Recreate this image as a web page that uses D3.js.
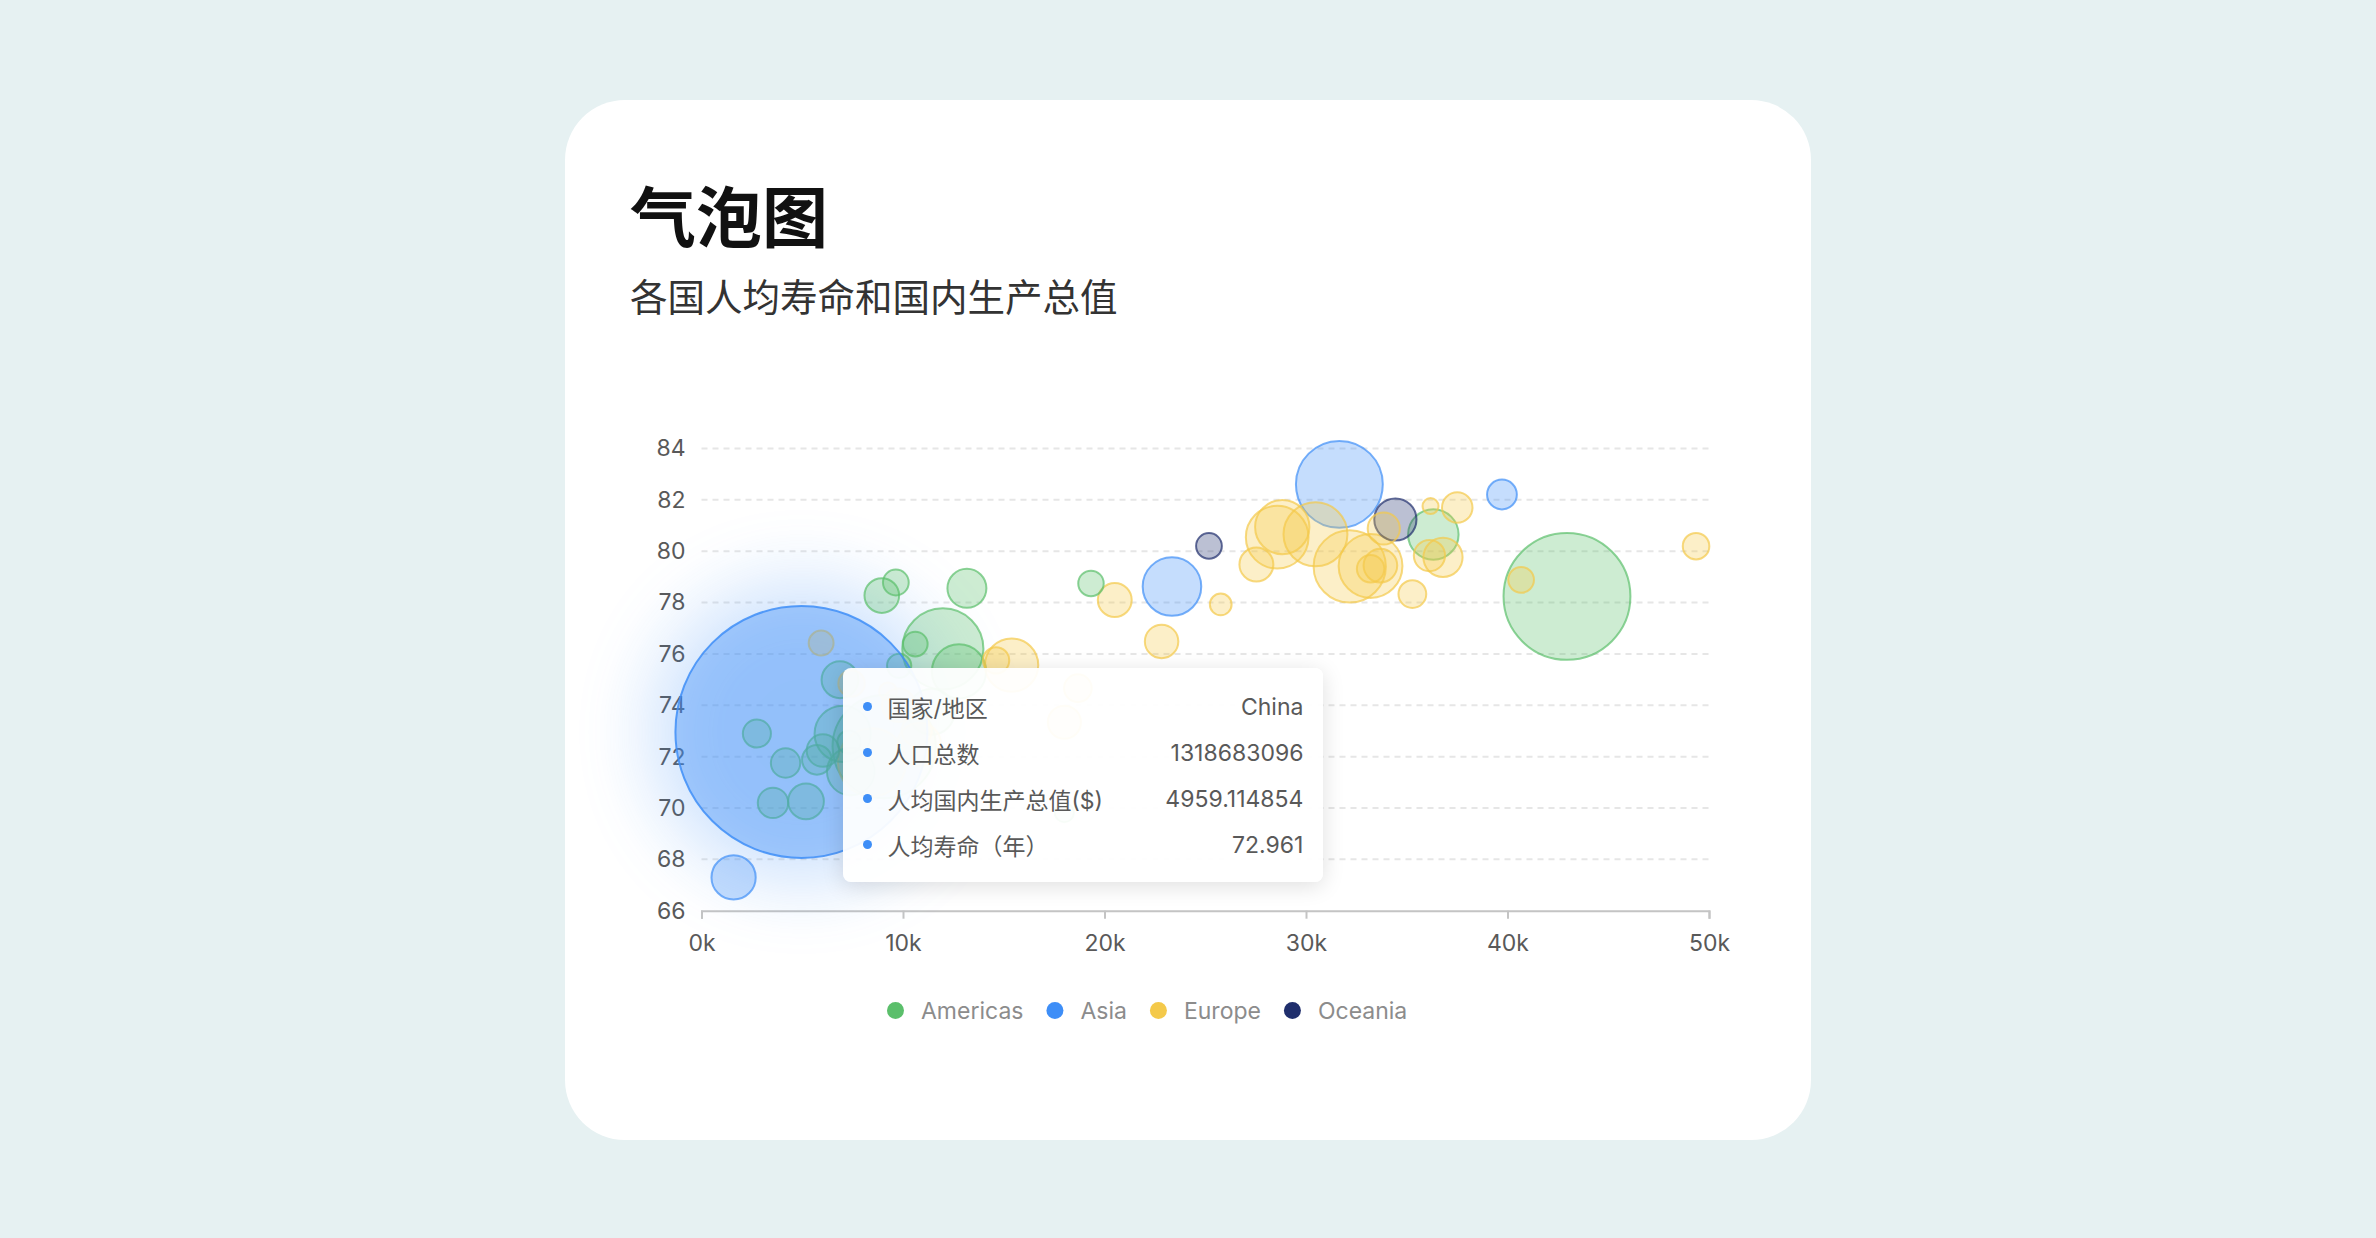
<!DOCTYPE html>
<html>
<head>
<meta charset="utf-8">
<script src="https://cdn.jsdelivr.net/npm/d3@7"></script>
<style>
body { margin: 0; background: #e6f1f2; overflow: hidden; }
#chart { position: relative; width: 2376px; height: 1238px; }
.tip {
	position: absolute;
	box-sizing: border-box;
	width: 480px;
	padding: 16px 20px 14px 20px;
	background: rgba(255,255,255,0.94);
	border-radius: 8px;
	box-shadow: 0 4px 22px rgba(0,0,0,0.13);
	font-family: Inter, "Noto Sans CJK SC", sans-serif;
	font-size: 23px;
	color: #595959;
}
.tip .row { display: flex; align-items: center; height: 46px; }
.tip .dot { width: 9px; height: 9px; border-radius: 50%; margin-right: 15px; flex: none; }
.tip .name { flex: 1; }
.tip .val { text-align: right; }
</style>
</head>
<body>
<div id="chart"></div>
<script>
// gapminder 2007 subset
var countries = ["Argentina","Brazil","Canada","Chile","Colombia","Costa Rica","Cuba","Dominican Republic","Ecuador","El Salvador","Guatemala","Honduras","Jamaica","Mexico","Nicaragua","Panama","Paraguay","Peru","Puerto Rico","Trinidad and Tobago","United States","Uruguay","Venezuela",
	"China","Hong Kong, China","Japan","Korea, Dem. Rep.","Korea, Rep.",
	"Albania","Austria","Belgium","Bosnia and Herzegovina","Bulgaria","Croatia","Czech Republic","Denmark","Finland","France","Germany","Greece","Hungary","Iceland","Ireland","Italy","Montenegro","Netherlands","Norway","Poland","Portugal","Romania","Serbia","Slovak Republic","Slovenia","Spain","Sweden","Switzerland","Turkey","United Kingdom",
	"Australia","New Zealand"];

var continents = ["Americas","Americas","Americas","Americas","Americas","Americas","Americas","Americas","Americas","Americas","Americas","Americas","Americas","Americas","Americas","Americas","Americas","Americas","Americas","Americas","Americas","Americas","Americas",
	"Asia","Asia","Asia","Asia","Asia",
	"Europe","Europe","Europe","Europe","Europe","Europe","Europe","Europe","Europe","Europe","Europe","Europe","Europe","Europe","Europe","Europe","Europe","Europe","Europe","Europe","Europe","Europe","Europe","Europe","Europe","Europe","Europe","Europe","Europe","Europe",
	"Oceania","Oceania"];

var gdpPercap = [12779.37964, 9065.800825, 36319.23501, 13171.63885, 7006.580419, 9645.06142, 8948.102923, 6025.374752, 6873.262326, 5728.353514, 5186.050003, 3548.330846, 7320.880262, 11977.57496, 2749.320965, 9809.185636, 4172.838464, 7408.905561, 19328.70901, 18008.50924, 42951.65309, 10611.46299, 11415.80569,
	4959.114854, 39724.97867, 31656.06806, 1593.06548, 23348.13973,
	5937.029526, 36126.4927, 33692.60508, 7446.298803, 10680.79282, 14619.22272, 22833.30851, 35278.41874, 33207.0844, 30470.0167, 32170.37442, 27538.41188, 18008.94444, 36180.78919, 40675.99635, 28569.7197, 9253.896111, 36797.93332, 49357.19017, 15389.92468, 20509.64777, 10808.47561, 9786.534714, 18678.31435, 25768.25759, 28821.0637, 33859.74835, 37506.41907, 8458.276384, 33203.26128,
	34435.36744, 25185.00911];

var lifeExp = [75.32, 72.39, 80.653, 78.553, 72.889, 78.782, 78.273, 72.235, 74.994, 71.878, 70.259, 70.198, 72.567, 76.195, 72.899, 75.537, 71.752, 71.421, 78.746, 69.819, 78.242, 76.384, 73.747,
	72.961, 82.208, 82.603, 67.297, 78.623,
	76.423, 79.829, 79.441, 74.852, 73.005, 75.748, 76.486, 78.332, 79.313, 80.657, 79.406, 79.483, 73.338, 81.757, 78.885, 80.546, 74.543, 79.762, 80.196, 75.563, 78.098, 72.476, 74.002, 74.663, 77.926, 80.941, 80.884, 81.701, 71.777, 79.425,
	81.235, 80.204];

var population = [40301927, 190010647, 33390141, 16284741, 44227550, 4133884, 11416987, 9319622, 13755680, 6939688, 12572928, 7483763, 2780132, 108700891, 5675356, 3242173, 6667147, 28674757, 3942491, 1056608, 301139947, 3447496, 26084662,
	1318683096, 6980412, 127467972, 23301725, 49044790,
	3600523, 8199783, 10392226, 4552198, 7322858, 4493312, 10228744, 5468120, 5238460, 61083916, 82400996, 10706290, 9956108, 301931, 4109086, 58147733, 684736, 16570613, 4627926, 38518241, 10642836, 22276056, 10150265, 5447502, 2009245, 40448191, 9031088, 7554661, 71158647, 60776238,
	20434176, 4115771];

var legendNames = ["Americas", "Asia", "Europe", "Oceania"];
var legendColors = ["#5bbf6b", "#3e8ef7", "#f4c94a", "#1f2e6c"];

var xTicks = [0, 10000, 20000, 30000, 40000, 50000];
var yTicks = [66, 68, 70, 72, 74, 76, 78, 80, 82, 84];

var activeCountry = "China";
var tipLabels = ["国家/地区", "人口总数", "人均国内生产总值($)", "人均寿命（年）"];

var width = 2376;
var height = 1238;

var plot = {left: 701.5, right: 1709, top: 448.5, bottom: 910.7};

var x = d3.scaleLinear().domain([0, 50000]).range([plot.left, plot.right]);
var y = d3.scaleLinear().domain([66, 84]).range([plot.bottom, plot.top]);
var r = d3.scaleSqrt().domain(d3.extent(population)).range([8, 126]);
var color = d3.scaleOrdinal().domain(legendNames).range(legendColors);

var font = "Inter, 'Noto Sans CJK SC', sans-serif";

var rows = countries.map(function(c, i) {
	return {country: c, continent: continents[i], gdp: gdpPercap[i], life: lifeExp[i], pop: population[i]};
});
// big bubbles first so the small ones stay on top
rows.sort(function(a, b) { return b.pop - a.pop; });

var active = rows.filter(function(d) { return d.country == activeCountry; })[0];
var others = rows.filter(function(d) { return d != active; });

var svg = d3.select("#chart").append("svg")
	.attr("width", width)
	.attr("height", height);

var defs = svg.append("defs");
defs.append("filter")
	.attr("id", "glow")
	.attr("x", "-80%").attr("y", "-80%")
	.attr("width", "260%").attr("height", "260%")
	.append("feGaussianBlur")
	.attr("stdDeviation", 38);

svg.append("rect")
	.attr("width", width).attr("height", height)
	.attr("fill", "#e6f1f2");

svg.append("rect")
	.attr("x", 565).attr("y", 100)
	.attr("width", 1246).attr("height", 1040)
	.attr("rx", 60)
	.attr("fill", "#fff");

svg.append("text")
	.attr("x", 630).attr("y", 242)
	.attr("font-family", "'Noto Sans CJK SC', sans-serif")
	.attr("font-size", 66)
	.attr("font-weight", 700)
	.attr("fill", "#111")
	.text("气泡图");

svg.append("text")
	.attr("x", 630).attr("y", 311)
	.attr("font-family", "'Noto Sans CJK SC', sans-serif")
	.attr("font-size", 37.5)
	.attr("fill", "#333")
	.text("各国人均寿命和国内生产总值");

// grid
svg.append("g")
	.selectAll("line").data(yTicks.slice(1))
	.enter().append("line")
	.attr("x1", plot.left).attr("x2", plot.right)
	.attr("y1", function(d) { return y(d); })
	.attr("y2", function(d) { return y(d); })
	.attr("stroke", "#e6e6e6")
	.attr("stroke-width", 2)
	.attr("stroke-dasharray", "6,5");

// axes
var xAxis = svg.append("g")
	.attr("transform", "translate(0," + plot.bottom + ")")
	.call(d3.axisBottom(x).tickValues(xTicks).tickSize(8).tickPadding(16)
		.tickFormat(function(d) { return (d / 1000) + "k"; }));
xAxis.select(".domain").attr("stroke", "#c4c4c4").attr("stroke-width", 2);
xAxis.selectAll(".tick line").attr("stroke", "#c4c4c4").attr("stroke-width", 2);
xAxis.selectAll("text").attr("font-family", font).attr("font-size", 23).attr("fill", "#595959");

var yAxis = svg.append("g")
	.attr("transform", "translate(" + plot.left + ",0)")
	.call(d3.axisLeft(y).tickValues(yTicks).tickSize(0).tickPadding(16));
yAxis.select(".domain").remove();
yAxis.selectAll("text").attr("font-family", font).attr("font-size", 23).attr("fill", "#595959");

// bubbles
var bubbles = svg.append("g");

bubbles.append("circle")
	.attr("cx", x(active.gdp))
	.attr("cy", y(active.life))
	.attr("r", r(active.pop) + 24)
	.attr("fill", color(active.continent))
	.attr("opacity", 0.26)
	.attr("filter", "url(#glow)");

bubbles.selectAll("circle.bubble").data(others)
	.enter().append("circle")
	.attr("class", "bubble")
	.attr("cx", function(d) { return x(d.gdp); })
	.attr("cy", function(d) { return y(d.life); })
	.attr("r", function(d) { return r(d.pop); })
	.attr("fill", function(d) { return color(d.continent); })
	.attr("fill-opacity", 0.3)
	.attr("stroke", function(d) { return color(d.continent); })
	.attr("stroke-opacity", 0.7)
	.attr("stroke-width", 2);

// hovered bubble is brought to the front
bubbles.append("circle")
	.datum(active)
	.attr("cx", function(d) { return x(d.gdp); })
	.attr("cy", function(d) { return y(d.life); })
	.attr("r", function(d) { return r(d.pop); })
	.attr("fill", function(d) { return color(d.continent); })
	.attr("fill-opacity", 0.4)
	.attr("stroke", function(d) { return color(d.continent); })
	.attr("stroke-opacity", 0.85)
	.attr("stroke-width", 2);

// legend
var legend = svg.append("g").attr("transform", "translate(0,1010.5)");
var lx = 895.5;
legendNames.forEach(function(name, i) {
	legend.append("circle")
		.attr("cx", lx).attr("cy", 0).attr("r", 8.5)
		.attr("fill", legendColors[i]);
	var t = legend.append("text")
		.attr("x", lx + 25.5).attr("y", 0)
		.attr("dy", "0.35em")
		.attr("font-family", font)
		.attr("font-size", 23)
		.attr("fill", "#8c8c8c")
		.text(name);
	lx = lx + 25.5 + t.node().getComputedTextLength() + 31.5;
});

// tooltip for the active bubble
var tipValues = [active.country, String(active.pop), String(active.gdp), String(active.life)];

var tip = d3.select("#chart").append("div")
	.attr("class", "tip")
	.style("left", (x(active.gdp) + 42) + "px")
	.style("top", (y(active.life) - 64) + "px");

tipLabels.forEach(function(label, i) {
	var row = tip.append("div").attr("class", "row");
	row.append("span").attr("class", "dot").style("background", color(active.continent));
	row.append("span").attr("class", "name").text(label);
	row.append("span").attr("class", "val").text(tipValues[i]);
});
</script>
</body>
</html>
